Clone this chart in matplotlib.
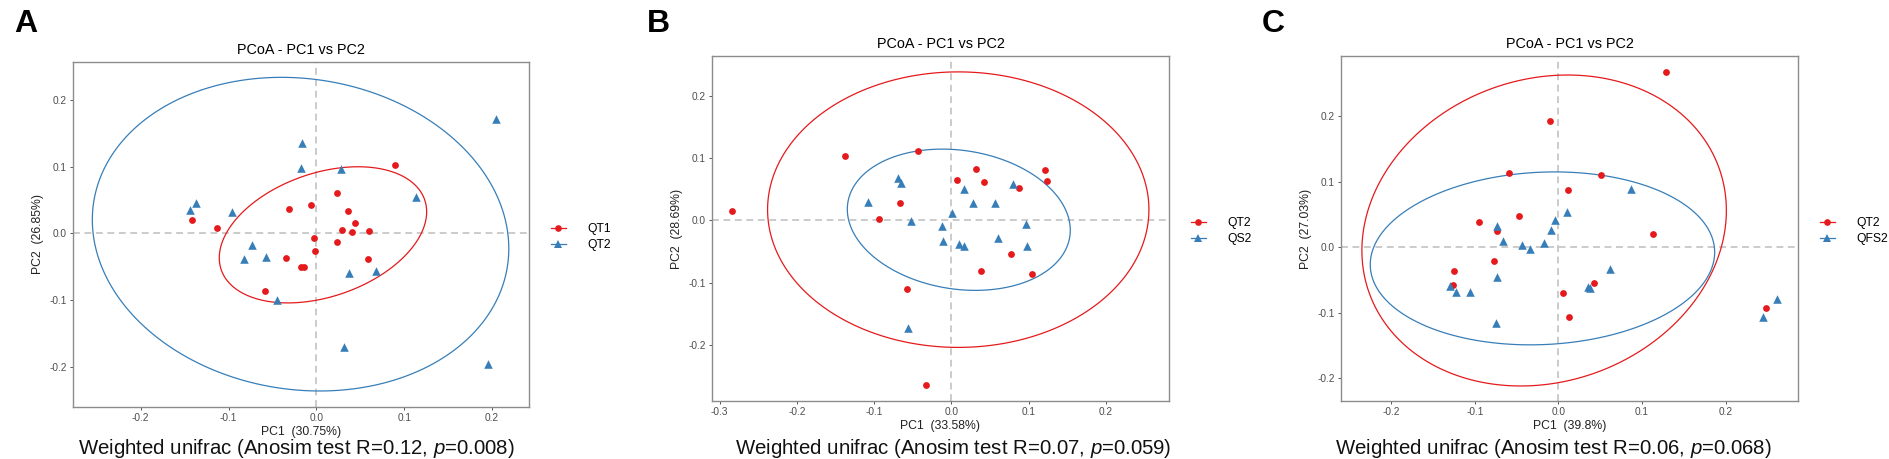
import numpy as np
import matplotlib
matplotlib.use("Agg")
import matplotlib.pyplot as plt
from matplotlib.lines import Line2D
from matplotlib.patches import Polygon

plt.rcParams['font.family'] = ['Liberation Sans', 'DejaVu Sans']
plt.rcParams['axes.unicode_minus'] = False
plt.rcParams['mathtext.fontset'] = 'custom'
plt.rcParams['mathtext.rm'] = 'Liberation Sans'
plt.rcParams['mathtext.it'] = 'Liberation Sans:italic'

RED = '#E41A1C'
BLUE = '#377EB8'

## Data ##################################

# Panel A: QT1 (circles) vs QT2 (triangles)
a_qt1_x = [-0.141, -0.1135, -0.031, -0.006, 0.023, 0.036, 0.044, 0.029, 0.040, 0.060,
           0.090, -0.003, -0.001, 0.024, -0.035, -0.018, -0.014, 0.0585, -0.0585]
a_qt1_y = [0.020, 0.0075, 0.036, 0.0425, 0.060, 0.0335, 0.0155, 0.005, 0.0015, 0.003,
           0.103, -0.007, -0.0265, -0.013, -0.0365, -0.050, -0.050, -0.038, -0.0855]
a_qt2_x = [-0.1437, -0.137, -0.0966, -0.016, -0.017, 0.028, 0.113, 0.204, -0.073, -0.082,
           -0.057, 0.0366, 0.068, -0.045, 0.031, 0.195]
a_qt2_y = [0.035, 0.045, 0.0325, 0.136, 0.0985, 0.097, 0.055, 0.1715, -0.0175, -0.0375,
           -0.035, -0.059, -0.0565, -0.100, -0.170, -0.196]

# Panel B: QT2 (circles) vs QS2 (triangles)
b_qt2_x = [-0.284, -0.138, -0.0433, -0.0668, -0.094, 0.0068, 0.0324, 0.0428, 0.0872, 0.1217,
           0.1243, 0.0773, 0.038, 0.104, -0.0569, -0.0329]
b_qt2_y = [0.0145, 0.103, 0.111, 0.028, 0.0027, 0.064, 0.083, 0.0616, 0.051, 0.080,
           0.0627, -0.0535, -0.082, -0.086, -0.111, -0.265]
b_qs2_x = [-0.108, -0.0695, -0.0648, 0.0167, 0.0282, 0.0564, 0.0794, 0.0005, -0.0517, -0.0125,
           0.0966, -0.0104, 0.0094, 0.0167, 0.060, 0.0976, -0.0564]
b_qs2_y = [0.0295, 0.0685, 0.0594, 0.050, 0.028, 0.028, 0.058, 0.0118, -0.002, -0.0086,
           -0.006, -0.034, -0.0386, -0.041, -0.028, -0.042, -0.173]

# Panel C: QT2 (circles) vs QFS2 (triangles)
c_qt2_x = [0.1287, -0.0101, -0.0588, 0.0516, 0.012, -0.0467, -0.0945, -0.0737, 0.1133, -0.0771,
           -0.1248, -0.1258, 0.0429, 0.0053, 0.0125, 0.249]
c_qt2_y = [0.2675, 0.1926, 0.1126, 0.1096, 0.0866, 0.0479, 0.0387, 0.025, 0.0204, -0.0209,
           -0.0362, -0.0571, -0.0545, -0.0698, -0.106, -0.0922]
c_qfs2_x = [0.0872, 0.0101, -0.0034, -0.0092, -0.0728, -0.066, -0.0434, -0.0342, -0.0169, 0.0622,
            -0.0733, 0.0352, 0.0376, -0.130, -0.1229, -0.106, -0.0742, 0.2453, 0.2617]
c_qfs2_y = [0.088, 0.054, 0.0408, 0.026, 0.0316, 0.0102, 0.004, -0.0025, 0.0061, -0.0336,
            -0.0448, -0.061, -0.062, -0.0596, -0.0688, -0.0688, -0.115, -0.106, -0.079]

# Ellipses: centre x, centre y, half width, half height, y offset of rightmost point
a_ell_red = [0.0075, -0.002, 0.118, 0.102, 0.0345]
a_ell_blue = [-0.018, -0.001, 0.237, 0.235, -0.0215]
b_ell_red = [0.009, 0.017, 0.247, 0.221, 0.0]
b_ell_blue = [0.0097, 0.0008, 0.1444, 0.1133, -0.0168]
c_ell_red = [-0.017, 0.0255, 0.218, 0.237, 0.0305]
c_ell_blue = [-0.019, -0.017, 0.206, 0.1318, 0.0094]

groups = [['QT1', 'QT2'], ['QT2', 'QS2'], ['QT2', 'QFS2']]
pc1_labels = ['PC1  (30.75%)', 'PC1  (33.58%)', 'PC1  (39.8%)']
pc2_labels = ['PC2  (26.85%)', 'PC2  (28.69%)', 'PC2  (27.03%)']
captions = ['Weighted unifrac (Anosim test R=0.12, $p$=0.008)',
            'Weighted unifrac (Anosim test R=0.07, $p$=0.059)',
            'Weighted unifrac (Anosim test R=0.06, $p$=0.068)']
letters = ['A', 'B', 'C']
xticks_list = [[-0.2, -0.1, 0.0, 0.1, 0.2], [-0.3, -0.2, -0.1, 0.0, 0.1, 0.2], [-0.2, -0.1, 0.0, 0.1, 0.2]]
yticks = [-0.2, -0.1, 0.0, 0.1, 0.2]
xlims = [(-0.277, 0.242), (-0.310, 0.282), (-0.260, 0.2867)]
ylims = [(-0.260, 0.257), (-0.290, 0.2635), (-0.2344, 0.2915)]

## Layout (pixels of the 1889x459 figure) #

W, H = 1889, 459
axes_px = [(73, 62, 456, 345), (712, 56, 457, 345), (1341, 56, 457, 345)]
letter_px = [(14, 9), (647, 9), (1262, 9)]
caption_px = [(296, 448), (953, 448), (1553, 448)]


def ellipse_xy(cx, cy, rx, ry, dy):
    s = np.array([[rx ** 2, dy * rx], [dy * rx, ry ** 2]])
    L = np.linalg.cholesky(s)
    t = np.linspace(0, 2 * np.pi, 300, endpoint=False)
    pts = L @ np.vstack([np.cos(t), np.sin(t)])
    return np.column_stack([cx + pts[0], cy + pts[1]])


fig = plt.figure(figsize=(W / 100, H / 100), dpi=100)

panels = [
    (a_qt1_x, a_qt1_y, a_qt2_x, a_qt2_y, a_ell_red, a_ell_blue),
    (b_qt2_x, b_qt2_y, b_qs2_x, b_qs2_y, b_ell_red, b_ell_blue),
    (c_qt2_x, c_qt2_y, c_qfs2_x, c_qfs2_y, c_ell_red, c_ell_blue),
]

for i, (rx_, ry_, bx_, by_, ell_r, ell_b) in enumerate(panels):
    l, t, w, h = axes_px[i]
    ax = fig.add_axes([l / W, 1 - (t + h) / H, w / W, h / H])

    ax.axhline(0, color='#BDBDBD', lw=1.1, ls=(0, (4.5, 3)), zorder=1)
    ax.axvline(0, color='#BDBDBD', lw=1.1, ls=(0, (4.5, 3)), zorder=1)

    ax.add_patch(Polygon(ellipse_xy(*ell_r), closed=True, fill=False, edgecolor=RED, lw=0.9, zorder=2))
    ax.add_patch(Polygon(ellipse_xy(*ell_b), closed=True, fill=False, edgecolor=BLUE, lw=0.9, zorder=2))

    ax.scatter(rx_, ry_, s=24, marker='o', color=RED, linewidths=0, zorder=3)
    ax.scatter(bx_, by_, s=38, marker='^', color=BLUE, linewidths=0, zorder=3)

    ax.set_xlim(*xlims[i])
    ax.set_ylim(*ylims[i])
    ax.set_xticks(xticks_list[i])
    ax.set_yticks(yticks)
    ax.set_xticklabels([f'{v:.1f}' for v in xticks_list[i]])
    ax.set_yticklabels([f'{v:.1f}' for v in yticks])
    ax.tick_params(length=2.5, width=0.7, color='#555555', labelcolor='#4D4D4D',
                   labelsize=7.3, pad=2)
    for sp in ax.spines.values():
        sp.set_color('#8C8C8C')
        sp.set_linewidth(1.0)

    ax.set_title('PCoA - PC1 vs PC2', fontsize=10.4, pad=6)
    ax.set_xlabel(pc1_labels[i], fontsize=8.8, color='#222222', labelpad=2)
    ax.set_ylabel(pc2_labels[i], fontsize=8.8, color='#222222', labelpad=4)

    handles = [
        Line2D([], [], color=RED, marker='o', markersize=4.8, lw=0.9, markeredgewidth=0),
        Line2D([], [], color=BLUE, marker='^', markersize=6.0, lw=0.9, markeredgewidth=0),
    ]
    ax.legend(handles, groups[i], loc='center left', bbox_to_anchor=(1.048, 0.492),
              frameon=False, fontsize=8.7, handlelength=1.25, handletextpad=1.75,
              labelspacing=0.35, borderpad=0, borderaxespad=0)

    lx, ly = letter_px[i]
    fig.text(lx / W, 1 - ly / H, letters[i], fontsize=23, fontweight='bold',
             va='top', ha='left')

    cx, cy = caption_px[i]
    fig.text(cx / W, 1 - cy / H, captions[i], fontsize=14.7, ha='center', va='center',
             color='#111111')

fig.savefig('out.png', dpi=100)
